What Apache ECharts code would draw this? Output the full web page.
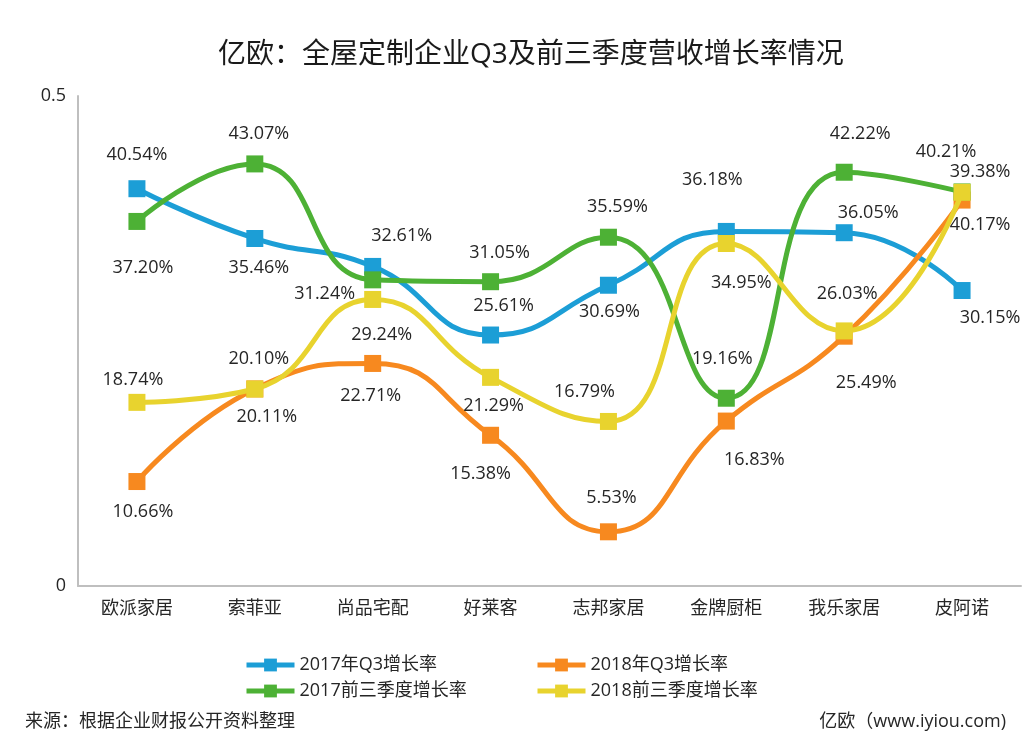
<!DOCTYPE html>
<html>
<head>
<meta charset="utf-8">
<script src="https://cdn.jsdelivr.net/npm/echarts@6/dist/echarts.min.js"></script>
<style>
html,body{margin:0;padding:0;background:#fff;}
#c{width:1024px;height:756px;}
</style>
</head>
<body>
<div id="c"></div>
<script>
// ---- data ----
var categories = ['欧派家居','索菲亚','尚品宅配','好莱客','志邦家居','金牌厨柜','我乐家居','皮阿诺'];
var seriesNames = ['2017年Q3增长率','2018年Q3增长率','2017前三季度增长率','2018前三季度增长率'];
var q3_2017   = [0.4054, 0.3546, 0.3261, 0.2561, 0.3069, 0.3618, 0.3605, 0.3015];
var q3_2018   = [0.1066, 0.2011, 0.2271, 0.1538, 0.0553, 0.1683, 0.2549, 0.3938];
var ytd_2017  = [0.3720, 0.4307, 0.3124, 0.3105, 0.3559, 0.1916, 0.4222, 0.4021];
var ytd_2018  = [0.1874, 0.2010, 0.2924, 0.2129, 0.1679, 0.3495, 0.2603, 0.4017];
var yTicks = [0, 0.5];

// ---- label placement (pixel offsets from each point) ----
var offQ3_2017  = [[0,-34],[4,29],[29,-31],[13,-29],[1,27],[-14,-52],[24,-20],[28,27]];
var offQ3_2018  = [[6,30],[12,28],[-2,32],[-10,39],[3,-34],[28,39],[22,47],[18,-28]];
var offYtd_2017 = [[6,46],[4,-30],[-48,14],[9,-29],[9,-30],[-4,-39],[16,-38],[-16,-40]];
var offYtd_2018 = [[-4,-22],[4,-30],[9,35],[3,29],[-24,-30],[15,39],[3,-37],[18,33]];

var colors = ['#1c9ed6','#f7891f','#4db135','#e8d32e'];
var FONT = "'Open Sans','Noto Sans CJK SC',sans-serif";

function pct(v){ return (v*100).toFixed(2) + '%'; }

function makeSeries(idx, vals, offs){
  return {
    name: seriesNames[idx],
    type: 'line',
    smooth: 0.5,
    symbol: 'rect',
    symbolSize: 17,
    z: 2 + idx,
    lineStyle: {width: 5, color: colors[idx]},
    itemStyle: {color: colors[idx]},
    data: vals.map(function(v, i){
      return {
        value: v,
        label: {show: true, position: 'inside', offset: offs[i],
          formatter: function(p){ return pct(p.value); },
          color: '#262626', fontSize: 18, fontFamily: FONT}
      };
    })
  };
}

var legendCommon = {
  orient: 'vertical', top: 656, padding: 0, itemGap: 8,
  itemWidth: 48, itemHeight: 16,
  lineStyle: {width: 5},
  textStyle: {fontSize: 18, color: '#262626', fontFamily: FONT}
};

var chart = echarts.init(document.getElementById('c'), null, {renderer: 'canvas'});
chart.setOption({
  animation: false,
  backgroundColor: '#ffffff',
  title: {
    text: '亿欧：全屋定制企业Q3及前三季度营收增长率情况',
    left: 213, top: 36,
    textStyle: {fontSize: 28, fontWeight: 'normal', color: '#1a1a1a', fontFamily: FONT}
  },
  grid: {left: 78, right: 3, top: 96, bottom: 170, containLabel: false},
  legend: [
    Object.assign({}, legendCommon, {left: 244, data: [seriesNames[0], seriesNames[2]]}),
    Object.assign({}, legendCommon, {left: 535, data: [seriesNames[1], seriesNames[3]]})
  ],
  xAxis: {
    type: 'category', data: categories, boundaryGap: true,
    axisLine: {lineStyle: {color: '#bfbfbf', width: 2}},
    axisTick: {show: false},
    axisLabel: {fontSize: 18, color: '#262626', margin: 14, fontFamily: FONT}
  },
  yAxis: {
    type: 'value', min: yTicks[0], max: yTicks[yTicks.length-1], interval: yTicks[1]-yTicks[0],
    axisLine: {show: true, lineStyle: {color: '#bfbfbf', width: 2}},
    axisTick: {show: false},
    splitLine: {show: false},
    axisLabel: {fontSize: 18, color: '#262626', margin: 12, fontFamily: FONT,
      formatter: function(v){ return String(v); }}
  },
  series: [
    makeSeries(0, q3_2017, offQ3_2017),
    makeSeries(1, q3_2018, offQ3_2018),
    makeSeries(2, ytd_2017, offYtd_2017),
    makeSeries(3, ytd_2018, offYtd_2018)
  ],
  graphic: [
    {type: 'text', left: 25, top: 713, style: {text: '来源：根据企业财报公开资料整理', font: '18px ' + FONT, fill: '#262626'}},
    {type: 'text', right: 18, top: 713, style: {text: '亿欧（www.iyiou.com)', font: '18px ' + FONT, fill: '#262626'}}
  ]
});
</script>
</body>
</html>
